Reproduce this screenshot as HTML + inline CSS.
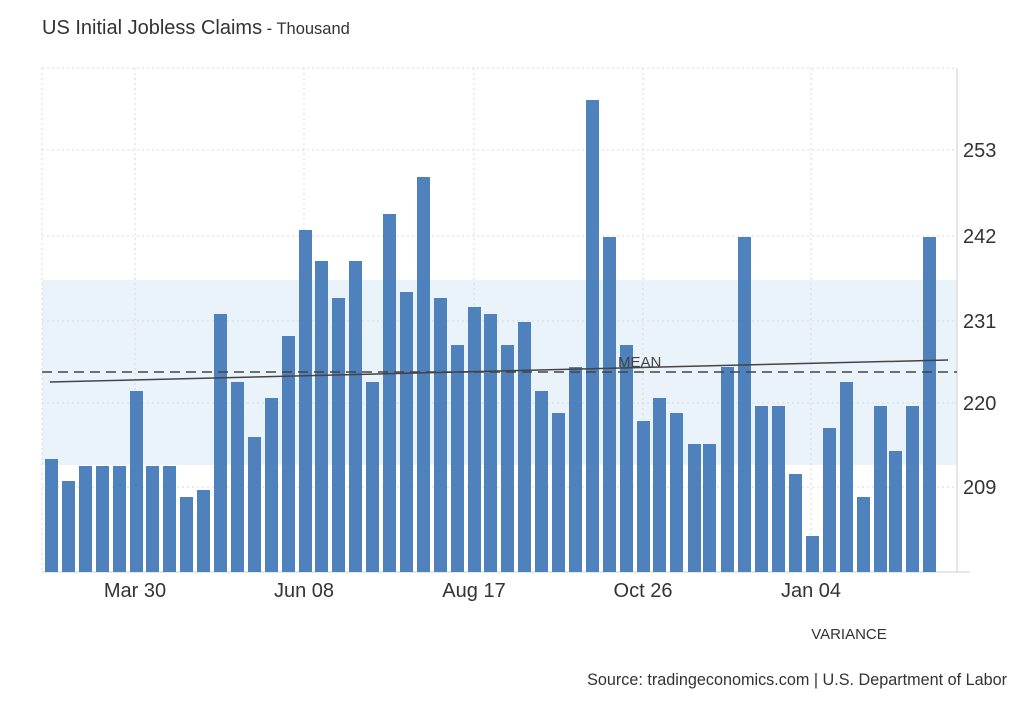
<!DOCTYPE html>
<html><head><meta charset="utf-8"><style>
body{margin:0;background:#fff;width:1024px;height:700px;overflow:hidden;font-family:"Liberation Sans",sans-serif}
</style></head><body>
<svg width="1024" height="700" xmlns="http://www.w3.org/2000/svg" font-family="Liberation Sans, sans-serif">
<text x="42" y="34" font-size="20" fill="#333">US Initial Jobless Claims<tspan font-size="16.5" fill="#333"> - Thousand</tspan></text>
<rect x="42" y="280" width="915" height="185" fill="#eaf3fa"/>
<g stroke="#d8d8d8" stroke-dasharray="2,3" stroke-width="1">
<line x1="42" y1="68" x2="957" y2="68"/>
<line x1="42" y1="150" x2="957" y2="150"/>
<line x1="42" y1="236" x2="957" y2="236"/>
<line x1="42" y1="321" x2="957" y2="321"/>
<line x1="42" y1="403" x2="957" y2="403"/>
<line x1="42" y1="487" x2="957" y2="487"/>
<line x1="42" y1="68" x2="42" y2="572"/>
<line x1="135" y1="68" x2="135" y2="572"/>
<line x1="304" y1="68" x2="304" y2="572"/>
<line x1="474" y1="68" x2="474" y2="572"/>
<line x1="643" y1="68" x2="643" y2="572"/>
<line x1="811" y1="68" x2="811" y2="572"/>
</g>
<line x1="957" y1="68" x2="957" y2="572" stroke="#ccc"/>
<line x1="42" y1="572" x2="970" y2="572" stroke="#ccc"/>
<g fill="#4f81bd">
<rect x="45" y="459" width="13" height="113"/>
<rect x="62" y="481" width="13" height="91"/>
<rect x="79" y="466" width="13" height="106"/>
<rect x="96" y="466" width="13" height="106"/>
<rect x="113" y="466" width="13" height="106"/>
<rect x="130" y="391" width="13" height="181"/>
<rect x="146" y="466" width="13" height="106"/>
<rect x="163" y="466" width="13" height="106"/>
<rect x="180" y="497" width="13" height="75"/>
<rect x="197" y="490" width="13" height="82"/>
<rect x="214" y="314" width="13" height="258"/>
<rect x="231" y="382" width="13" height="190"/>
<rect x="248" y="437" width="13" height="135"/>
<rect x="265" y="398" width="13" height="174"/>
<rect x="282" y="336" width="13" height="236"/>
<rect x="299" y="230" width="13" height="342"/>
<rect x="315" y="261" width="13" height="311"/>
<rect x="332" y="298" width="13" height="274"/>
<rect x="349" y="261" width="13" height="311"/>
<rect x="366" y="382" width="13" height="190"/>
<rect x="383" y="214" width="13" height="358"/>
<rect x="400" y="292" width="13" height="280"/>
<rect x="417" y="177" width="13" height="395"/>
<rect x="434" y="298" width="13" height="274"/>
<rect x="451" y="345" width="13" height="227"/>
<rect x="468" y="307" width="13" height="265"/>
<rect x="484" y="314" width="13" height="258"/>
<rect x="501" y="345" width="13" height="227"/>
<rect x="518" y="322" width="13" height="250"/>
<rect x="535" y="391" width="13" height="181"/>
<rect x="552" y="413" width="13" height="159"/>
<rect x="569" y="367" width="13" height="205"/>
<rect x="586" y="100" width="13" height="472"/>
<rect x="603" y="237" width="13" height="335"/>
<rect x="620" y="345" width="13" height="227"/>
<rect x="637" y="421" width="13" height="151"/>
<rect x="653" y="398" width="13" height="174"/>
<rect x="670" y="413" width="13" height="159"/>
<rect x="688" y="444" width="13" height="128"/>
<rect x="703" y="444" width="13" height="128"/>
<rect x="721" y="367" width="13" height="205"/>
<rect x="738" y="237" width="13" height="335"/>
<rect x="755" y="406" width="13" height="166"/>
<rect x="772" y="406" width="13" height="166"/>
<rect x="789" y="474" width="13" height="98"/>
<rect x="806" y="536" width="13" height="36"/>
<rect x="823" y="428" width="13" height="144"/>
<rect x="840" y="382" width="13" height="190"/>
<rect x="857" y="497" width="13" height="75"/>
<rect x="874" y="406" width="13" height="166"/>
<rect x="889" y="451" width="13" height="121"/>
<rect x="906" y="406" width="13" height="166"/>
<rect x="923" y="237" width="13" height="335"/>
</g>
<line x1="42" y1="372" x2="957" y2="372" stroke="#444" stroke-width="1.5" stroke-dasharray="10,6"/>
<line x1="50" y1="382" x2="948" y2="360" stroke="#444" stroke-width="1.5"/>
<text x="618" y="367" font-size="15" fill="#444">MEAN</text>
<g font-size="20" fill="#333">
<text x="963" y="157">253</text>
<text x="963" y="243">242</text>
<text x="963" y="328">231</text>
<text x="963" y="410">220</text>
<text x="963" y="494">209</text>
</g>
<g font-size="20" fill="#333" text-anchor="middle">
<text x="135" y="597">Mar 30</text>
<text x="304" y="597">Jun 08</text>
<text x="474" y="597">Aug 17</text>
<text x="643" y="597">Oct 26</text>
<text x="811" y="597">Jan 04</text>
</g>
<text x="849" y="639" font-size="15" fill="#333" text-anchor="middle">VARIANCE</text>
<text x="1007" y="685" font-size="16.2" fill="#333" text-anchor="end">Source: tradingeconomics.com | U.S. Department of Labor</text>
</svg>
</body></html>
